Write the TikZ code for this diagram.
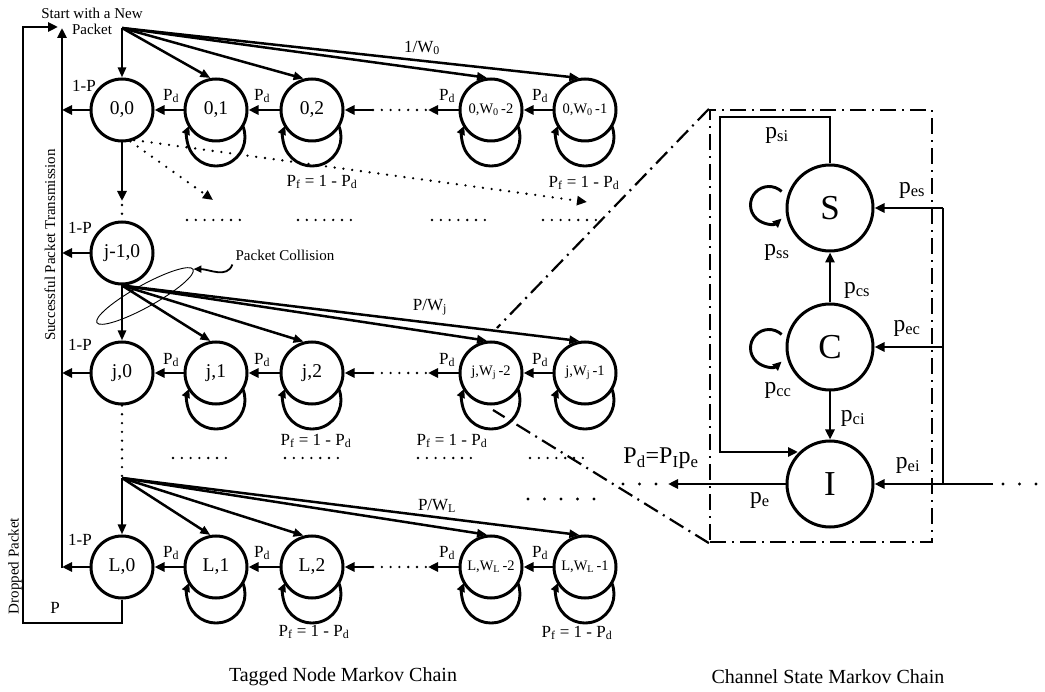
\documentclass[tikz,border=0pt]{standalone}
\usepackage{fontspec}
\setmainfont{Liberation Serif}
\usetikzlibrary{arrows.meta,shapes.geometric,calc}
\newcommand{\myfs}[1]{\fontsize{#1}{#1}\selectfont}
\newcommand{\myloop}[1]{\draw[looparrow] ($(#1.center)+(26.7,-15.7)$) arc[start angle=23,end angle=-203,radius=29];}
\begin{document}
\begin{tikzpicture}[x=1pt,y=1pt,
  st/.style={circle,draw,line width=3pt,minimum size=62pt,inner sep=0pt,font=\myfs{19.5}},
  sts/.style={st,font=\myfs{14.5}},
  bigst/.style={circle,draw,line width=3pt,minimum size=86pt,inner sep=0pt,font=\myfs{35}},
  ar/.style={line width=2.7pt,-{Triangle[length=10pt,width=9pt]}},
  fan/.style={line width=2.5pt,-{Triangle[length=10pt,width=8pt]}},
  looparrow/.style={line width=2.9pt,-{Triangle[length=9pt,width=8pt]}},
  thk/.style={line width=2.7pt},
  lb/.style={font=\myfs{17},inner sep=0pt},
  tx/.style={font=\fontsize{15}{16}\selectfont,inner sep=0pt},
  pl/.style={font=\myfs{23.5},inner sep=0pt},
  dotline/.style={line width=2.6pt,line cap=round,dash pattern=on 0pt off 8.8pt},
  wdots/.style={line width=3.2pt,line cap=round,dash pattern=on 0pt off 16.5pt},
  ddline/.style={line width=2.2pt,dash pattern=on 16pt off 6pt on 2pt off 6pt},
]
\useasboundingbox (0,0) rectangle (1045,-692);

% ---------- nodes ----------
\node[st]  (a0) at (122,-110) {0,0};
\node[st]  (a1) at (216,-110) {0,1};
\node[st]  (a2) at (312,-110) {0,2};
\node[sts] (a3) at (491,-110) {0,W\textsubscript{0}\,-2};
\node[sts] (a4) at (585,-110) {0,W\textsubscript{0}\,-1};
\node[st]  (b0) at (122,-253) {j-1,0};
\node[st]  (c0) at (122,-373) {j,0};
\node[st]  (c1) at (216,-373) {j,1};
\node[st]  (c2) at (312,-373) {j,2};
\node[sts] (c3) at (491,-373) {j,W\textsubscript{j}\,-2};
\node[sts] (c4) at (585,-373) {j,W\textsubscript{j}\,-1};
\node[st]  (d0) at (122,-567) {L,0};
\node[st]  (d1) at (216,-567) {L,1};
\node[st]  (d2) at (312,-567) {L,2};
\node[sts] (d3) at (491,-567) {L,W\textsubscript{L}\,-2};
\node[sts] (d4) at (585,-567) {L,W\textsubscript{L}\,-1};

% ---------- fans ----------
\coordinate (s0) at (122,-28);
\coordinate (sL) at (122,-478);
\draw[fan] (s0) -- (a0.north);
\foreach \t/\a in {a1/100,a2/105,a3/97,a4/100} \draw[fan] (s0) -- (\t.\a);
\draw[fan] (b0.south) -- (c0.north);
\foreach \t/\a in {c1/100,c2/105,c3/97,c4/100} \draw[fan] (b0.south) -- (\t.\a);
\draw[fan] (sL) -- (d0.north);
\foreach \t/\a in {d1/100,d2/105,d3/97,d4/100} \draw[fan] (sL) -- (\t.\a);

\node[lb] (w0) at (422,-48) {1/W\textsubscript{0}};
\node[lb] (wj) at (430,-307) {P/W\textsubscript{j}};
\node[lb] (wl) at (437,-506) {P/W\textsubscript{L}};

% ---------- horizontal chains ----------
\foreach \r/\y in {a/-110,c/-373,d/-567}{
  \draw[ar] (\r1) -- (\r0);
  \draw[ar] (\r2) -- (\r1);
  \draw[ar] (\r4) -- (\r3);
  \coordinate (\r3l) at (428,\y);
  \coordinate (\r2r) at (373,\y);
  \draw[ar] (\r3) -- (\r3l);
  \draw[dotline] (\r2r) -- (\r3l);
  \draw[ar] (\r2r) -- (\r2);
  \coordinate (\r v) at (62,\y);
  \draw[ar] (\r0) -- (\r v);
  \myloop{\r1}\myloop{\r2}\myloop{\r3}\myloop{\r4}
}
\coordinate (bv) at (62,-253);
\draw[ar] (b0) -- (bv);

% Pd labels
\foreach \y in {-96,-360,-553}{
  \node[lb] at (171,\y) {P\textsubscript{d}};
  \node[lb] at (262,\y) {P\textsubscript{d}};
  \node[lb] at (447,\y) {P\textsubscript{d}};
  \node[lb] at (540,\y) {P\textsubscript{d}};
}
% 1-P labels
\node[lb] at (84,-86) {1-P};
\node[lb] at (80,-228) {1-P};
\node[lb] at (80,-345) {1-P};
\node[lb] at (80,-540) {1-P};

% Pf labels
\node[lb] at (322,-182) {P\textsubscript{f} = 1 - P\textsubscript{d}};
\node[lb] at (584,-183) {P\textsubscript{f} = 1 - P\textsubscript{d}};
\node[lb] at (316,-441) {P\textsubscript{f} = 1 - P\textsubscript{d}};
\node[lb] at (452,-441) {P\textsubscript{f} = 1 - P\textsubscript{d}};
\node[lb] at (314,-632) {P\textsubscript{f} = 1 - P\textsubscript{d}};
\node[lb] at (577,-633) {P\textsubscript{f} = 1 - P\textsubscript{d}};

% ---------- vertical connections ----------
\coordinate (a0d) at (122,-201);
\coordinate (a0e) at (122,-205);
\draw[ar] (a0) -- (a0d);
\draw[dotline] (a0e) -- (b0.north);
\draw[dotline] (c0.south) -- (sL);
\coordinate (dd1) at (213,-200);
\coordinate (dd2) at (587,-202);
\draw[dotline,-{Triangle[length=10pt,width=9pt]}] (a0.-75) -- (dd1);
\draw[dotline,-{Triangle[length=10pt,width=9pt]}] (a0.-68) -- (dd2);

% dot rows
\foreach \x in {187,298,432,543} \draw[dotline] (\x,-220) -- ++(53.5,0);
\foreach \x in {173,285,418,530} \draw[dotline] (\x,-458) -- ++(53.5,0);
\draw[wdots] (528,-499) -- ++(66.5,0);

% success line and dropped line
\coordinate (vb) at (62,-568);
\coordinate (vt) at (62,-28);
\draw[ar] (vb) -- (vt);
\coordinate (p1) at (122,-623);
\coordinate (p2) at (23,-623);
\coordinate (p3) at (23,-27);
\coordinate (p4) at (58,-27);
\draw[ar] (d0.south) -- (p1) -- (p2) -- (p3) -- (p4);
\node[lb] at (55,-608) {P};
\node[tx,rotate=90] at (50,-245) {Successful Packet Transmission};
\node[tx,rotate=90] at (15,-566) {Dropped Packet};
\node[tx,align=center] at (92,-21) {Start with a New\\Packet};

% packet collision
\node[draw,ellipse,line width=0.9pt,rotate=29,minimum width=110pt,minimum height=22pt,inner sep=0pt] (coll) at (145,-296) {};
\node[tx] (pc) at (285,-255) {Packet Collision};
\draw[line width=1.8pt,-{Triangle[length=8pt,width=7pt]}] ([shift={(-3,-4)}]pc.south west) to[out=-110,in=0] (coll.east);

% ---------- channel state chain ----------
\node[ddline,draw,minimum width=222pt,minimum height=432pt,inner sep=0pt] (box) at (821,-326) {};
\node[bigst] (S) at (830,-208) {S};
\node[bigst] (C) at (830,-347) {C};
\node[bigst] (I) at (830,-484) {I};

\coordinate (k1) at (830,-117);
\coordinate (k2) at (720,-117);
\coordinate (k3) at (720,-452);
\coordinate (k4) at (798,-452);
\draw[ar] (S.north) -- (k1) -- (k2) -- (k3) -- (k4);
\draw[ar] (C) -- (S);
\draw[ar] (C) -- (I);
\draw[looparrow] ($(S.center)+(-61,3)+(47:18.5)$) arc[start angle=47,end angle=313,radius=18.5];
\draw[looparrow] ($(C.center)+(-61,-1)+(47:18.5)$) arc[start angle=47,end angle=313,radius=18.5];

\coordinate (e0) at (993,-484);
\coordinate (eS) at (943,-208);
\coordinate (eC) at (943,-347);
\coordinate (eI) at (943,-484);
\draw[thk] (eS) -- (eI);
\draw[ar] (e0) -- (I);
\draw[ar] (eS) -- (S);
\draw[ar] (eC) -- (C);
\draw[wdots] (1003,-484) -- ++(34.5,0);
\coordinate (o1) at (668,-484);
\draw[ar] (I) -- (o1);
\draw[wdots] (623,-484) -- ++(33.5,0);

\coordinate (z1) at (497,-328);
\coordinate (z2) at (493,-410);
\draw[ddline] (box.north west) -- (z1);
\draw[ddline] (box.south west) -- (z2);

\node[pl] at (777,-135) {p\textsubscript{si}};
\node[pl] at (777,-252) {p\textsubscript{ss}};
\node[pl] at (857,-290) {p\textsubscript{cs}};
\node[pl] at (778,-390) {p\textsubscript{cc}};
\node[pl] at (853,-418) {p\textsubscript{ci}};
\node[pl] at (912,-190) {p\textsubscript{es}};
\node[pl] at (907,-328) {p\textsubscript{ec}};
\node[pl] at (908,-465) {p\textsubscript{ei}};
\node[pl] at (760,-500) {p\textsubscript{e}};
\node[font=\myfs{24},inner sep=0pt] at (661,-458) {P\textsubscript{d}=P\textsubscript{I}p\textsubscript{e}};

% captions
\node[font=\myfs{20},inner sep=0pt] at (343,-677) {Tagged Node Markov Chain};
\node[font=\myfs{20},inner sep=0pt] at (828,-677) {Channel State Markov Chain};
\end{tikzpicture}
\end{document}
